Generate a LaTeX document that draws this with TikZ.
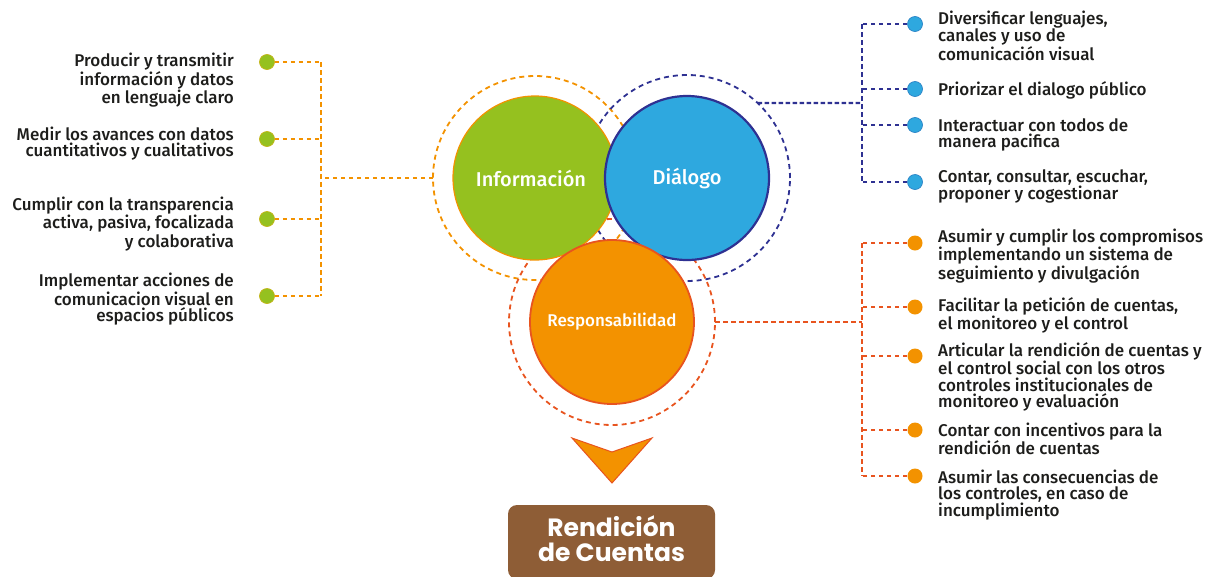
\documentclass[tikz,border=0pt]{standalone}
\usepackage{fontspec}
\setmainfont{Fira Sans}[BoldFont={Fira Sans Medium}]
\newfontfamily\titulofont{Poppins}
\usetikzlibrary{positioning}
\definecolor{verde}{HTML}{95C11F}
\definecolor{verdeborde}{HTML}{C2B415}
\definecolor{azul}{HTML}{2EA8DF}
\definecolor{azulborde}{HTML}{2B83C6}
\definecolor{marino}{HTML}{2E3192}
\definecolor{naranja}{HTML}{F39200}
\definecolor{rojizo}{HTML}{E8541F}
\definecolor{cafe}{HTML}{8E5D36}
\definecolor{tinta}{HTML}{1D1D1B}
\tikzset{
  circulo/.style={circle,minimum size=164pt,inner sep=0pt,text=white},
  anillo/.style={dash pattern=on 5pt off 4pt,line width=1.8pt},
  guia/.style={dash pattern=on 4.5pt off 3.5pt,line width=1.5pt},
  vineta/.style={circle,minimum size=15pt,inner sep=0pt,line width=0.7pt},
  textoi/.style={anchor=east,align=right,text=tinta,inner sep=0pt,font=\bfseries\fontsize{17}{16.7}\selectfont},
  textod/.style={anchor=west,align=left,text=tinta,inner sep=0pt,font=\bfseries\fontsize{17}{16.7}\selectfont},
  caja/.style={fill=cafe,rounded corners=9pt,minimum width=207pt,minimum height=74pt,text=white,
    font=\titulofont\bfseries\fontsize{25}{21.5}\selectfont}
}
\begin{document}
\begin{tikzpicture}[x=1pt,y=1pt,line join=round]
\useasboundingbox (0,0) rectangle (1210,-576);
\path
  (535,-178) coordinate (ci)
  (687,-178) coordinate (cd)
  (612,-322) coordinate (cr)
  (ci)++(180:102) coordinate (ai)
  (cd)++(46.7:103) coordinate (ad)
  (cr)++(0:103) coordinate (ar)
  (321,-178) coordinate (ji)
  (862,-103) coordinate (jd)
  (862,-322) coordinate (jr)
  ;
\draw[anillo,naranja] (ci) circle[radius=102];
\draw[anillo,marino] (cd) circle[radius=103];
\draw[anillo,rojizo] (cr) circle[radius=103];
\node[circulo,fill=verde,draw=naranja,line width=1.2pt,font=\bfseries\fontsize{20}{22}\selectfont] (info) at (ci) {\hspace*{-8pt}Información};
\node[circulo,fill=azul,draw=marino,line width=2.2pt,font=\bfseries\fontsize{20}{22}\selectfont] (dial) at (cd) {Diálogo};
\node[circulo,fill=naranja,draw=rojizo,line width=1.8pt,font=\bfseries\fontsize{17}{19}\selectfont] (resp) at (cr) {Responsabilidad};
\draw[guia,naranja] (ai) -- (ji);
\draw[guia,marino,line width=2.4pt,dash pattern=on 4.5pt off 2.5pt] (ad) -- (jd);
\draw[guia,rojizo] (ar) -- (jr);
\foreach \n/\by/\ty/\t in {
  1/62/80/{Producir y transmitir\\información y datos\\en lenguaje claro},
  2/139/143.5/{Medir los avances con datos\\cuantitativos y cualitativos},
  3/219/224/{Cumplir con la transparencia\\activa, pasiva, focalizada\\y colaborativa},
  4/296/299.5/{Implementar acciones de\\comunicacion visual en\\espacios públicos}}{
  \node[vineta,fill=verde,draw=verdeborde] (v\n) at (267,-\by) {};
  \node[textoi] (tv\n) at (234,-\ty) {\t};
  \draw[guia,naranja] (v\n) -- (v\n -| ji);
}
\draw[guia,naranja] (v1 -| ji) -- (v4 -| ji);
\foreach \n/\by/\ty/\t in {
  1/24/36/{Diversificar lenguajes,\\canales y uso de\\comunicación visual},
  2/89/90/{Priorizar el dialogo público},
  3/125/135/{Interactuar con todos de\\manera pacifica},
  4/182/186.5/{Contar, consultar, escuchar,\\proponer y cogestionar}}{
  \node[vineta,fill=azul,draw=azulborde] (a\n) at (915,-\by) {};
  \node[textod] (ta\n) at (938,-\ty) {\t};
  \draw[guia,marino,line width=1.1pt] (a\n) -- (a\n -| jd);
}
\draw[guia,marino,line width=1.6pt] (a1 -| jd) -- (a4 -| jd);
\foreach \n/\by/\ty/\t in {
  1/243/256/{Asumir y cumplir los compromisos\\implementando un sistema de\\seguimiento y divulgación},
  2/307/315.5/{Facilitar la petición de cuentas,\\el monitoreo y el control},
  3/356/377/{Articular la rendición de cuentas y\\el control social con los otros\\controles institucionales de\\monitoreo y evaluación},
  4/430/439/{Contar con incentivos para la\\rendición de cuentas},
  5/476/495/{Asumir las consecuencias de\\los controles, en caso de\\incumplimiento}}{
  \node[vineta,fill=naranja] (r\n) at (915,-\by) {};
  \node[textod] (tr\n) at (938,-\ty) {\t};
  \draw[guia,rojizo] (r\n) -- (r\n -| jr);
}
\draw[guia,rojizo] (r1 -| jr) -- (r5 -| jr);
\draw[fill=naranja,draw=rojizo,line width=1pt,line join=miter] (572,-438) -- (612,-452) -- (652,-438) -- (612,-483) -- cycle;
\node[caja] (rc) at (611.5,-542) {\raisebox{5pt}{\begin{tabular}{@{}c@{}}Rendición\\de Cuentas\end{tabular}}};
\end{tikzpicture}
\end{document}
